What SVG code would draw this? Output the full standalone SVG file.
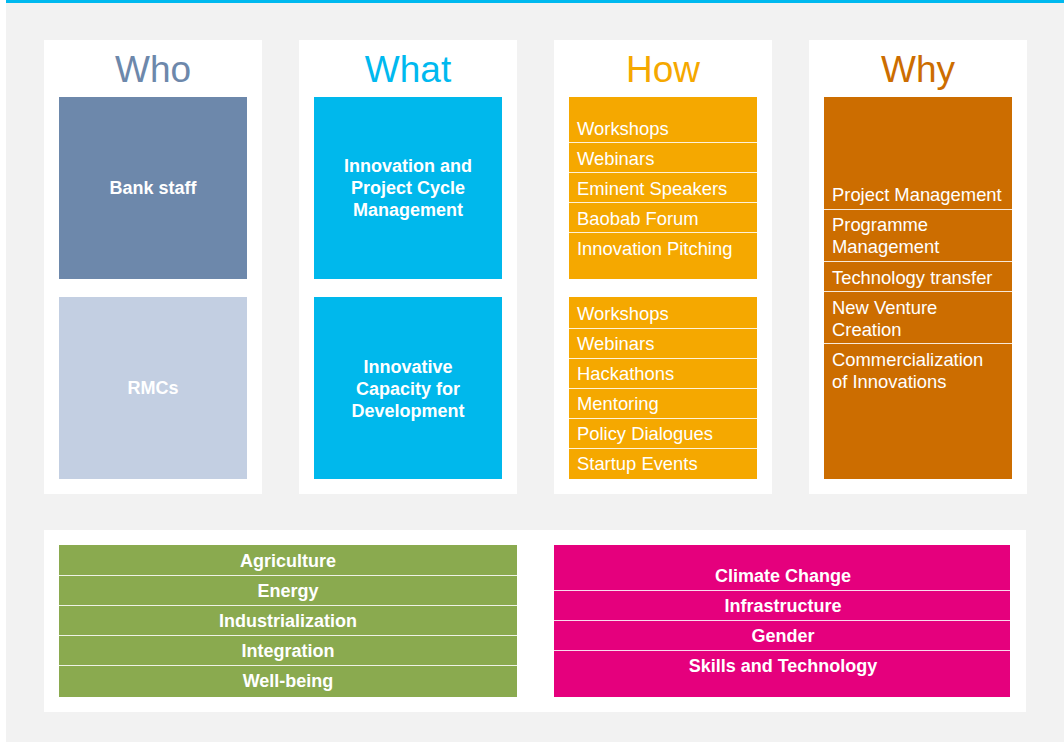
<svg xmlns="http://www.w3.org/2000/svg" width="1064" height="742" viewBox="0 0 1064 742">
<style>
.panel{fill:#ffffff}
.head{font-family:"Liberation Sans",Arial,sans-serif;font-size:37px;text-anchor:middle}
.bold{font-family:"Liberation Sans",Arial,sans-serif;font-size:18px;font-weight:bold;fill:#ffffff;text-anchor:middle}
.item{font-family:"Liberation Sans",Arial,sans-serif;font-size:18.4px;fill:#ffffff}
.sep{stroke:#ffffff;stroke-opacity:0.85;stroke-width:1.2}
</style>
<rect x="0" y="0" width="1064" height="742" fill="#ffffff"/>
<rect x="6" y="3" width="1058" height="739" fill="#f2f2f2"/>
<rect x="6" y="0" width="1058" height="3" fill="#00b9ef"/>

<g id="who">
<rect class="panel" x="44" y="40" width="218" height="454"/>
<text class="head" x="153" y="82" fill="#6d88ab">Who</text>
<rect x="59" y="97" width="188" height="182" fill="#6d88ab"/>
<text class="bold" x="153" y="194">Bank staff</text>
<rect x="59" y="297" width="188" height="182" fill="#c3cfe2"/>
<text class="bold" x="153" y="394">RMCs</text>
</g>

<g id="what">
<rect class="panel" x="299" y="40" width="218" height="454"/>
<text class="head" x="408" y="82" fill="#00b9ef">What</text>
<rect x="314" y="97" width="188" height="182" fill="#00b8ec"/>
<text class="bold" x="408" y="172">Innovation and</text>
<text class="bold" x="408" y="194">Project Cycle</text>
<text class="bold" x="408" y="216">Management</text>
<rect x="314" y="297" width="188" height="182" fill="#00b8ec"/>
<text class="bold" x="408" y="373">Innovative</text>
<text class="bold" x="408" y="395">Capacity for</text>
<text class="bold" x="408" y="417">Development</text>
</g>

<g id="how">
<rect class="panel" x="554" y="40" width="218" height="454"/>
<text class="head" x="663" y="82" fill="#f5a800">How</text>
<rect x="569" y="97" width="188" height="182" fill="#f5a800"/>
<g class="sep">
<line x1="569" y1="142.5" x2="757" y2="142.5"/>
<line x1="569" y1="172.5" x2="757" y2="172.5"/>
<line x1="569" y1="202.5" x2="757" y2="202.5"/>
<line x1="569" y1="232.5" x2="757" y2="232.5"/>
</g>
<text class="item" x="577" y="135">Workshops</text>
<text class="item" x="577" y="165">Webinars</text>
<text class="item" x="577" y="195">Eminent Speakers</text>
<text class="item" x="577" y="225">Baobab Forum</text>
<text class="item" x="577" y="255">Innovation Pitching</text>
<rect x="569" y="297" width="188" height="182" fill="#f5a800"/>
<g class="sep">
<line x1="569" y1="328.5" x2="757" y2="328.5"/>
<line x1="569" y1="358.5" x2="757" y2="358.5"/>
<line x1="569" y1="388.5" x2="757" y2="388.5"/>
<line x1="569" y1="418.5" x2="757" y2="418.5"/>
<line x1="569" y1="448.5" x2="757" y2="448.5"/>
</g>
<text class="item" x="577" y="320">Workshops</text>
<text class="item" x="577" y="350">Webinars</text>
<text class="item" x="577" y="380">Hackathons</text>
<text class="item" x="577" y="410">Mentoring</text>
<text class="item" x="577" y="440">Policy Dialogues</text>
<text class="item" x="577" y="470">Startup Events</text>
</g>

<g id="why">
<rect class="panel" x="809" y="40" width="218" height="454"/>
<text class="head" x="918" y="82" fill="#cc6d00">Why</text>
<rect x="824" y="97" width="188" height="382" fill="#cc6d00"/>
<g class="sep">
<line x1="824" y1="209.5" x2="1012" y2="209.5"/>
<line x1="824" y1="261.5" x2="1012" y2="261.5"/>
<line x1="824" y1="291.5" x2="1012" y2="291.5"/>
<line x1="824" y1="343.5" x2="1012" y2="343.5"/>
</g>
<text class="item" x="832" y="201">Project Management</text>
<text class="item" x="832" y="231">Programme</text>
<text class="item" x="832" y="253">Management</text>
<text class="item" x="832" y="284">Technology transfer</text>
<text class="item" x="832" y="314">New Venture</text>
<text class="item" x="832" y="336">Creation</text>
<text class="item" x="832" y="366">Commercialization</text>
<text class="item" x="832" y="388">of Innovations</text>
</g>

<g id="themes">
<rect class="panel" x="44" y="530" width="982" height="182"/>
</g>

<g id="high5">
<rect x="59" y="545" width="458" height="152" fill="#8aaa4f"/>
<g class="sep">
<line x1="59" y1="575.5" x2="517" y2="575.5"/>
<line x1="59" y1="605.5" x2="517" y2="605.5"/>
<line x1="59" y1="635.5" x2="517" y2="635.5"/>
<line x1="59" y1="665.5" x2="517" y2="665.5"/>
</g>
<text class="bold" x="288" y="567">Agriculture</text>
<text class="bold" x="288" y="597">Energy</text>
<text class="bold" x="288" y="627">Industrialization</text>
<text class="bold" x="288" y="657">Integration</text>
<text class="bold" x="288" y="687">Well-being</text>
</g>

<g id="crosscutting">
<rect x="554" y="545" width="456" height="152" fill="#e5007d"/>
<g class="sep">
<line x1="554" y1="590.5" x2="1010" y2="590.5"/>
<line x1="554" y1="620.5" x2="1010" y2="620.5"/>
<line x1="554" y1="650.5" x2="1010" y2="650.5"/>
</g>
<text class="bold" x="783" y="582">Climate Change</text>
<text class="bold" x="783" y="612">Infrastructure</text>
<text class="bold" x="783" y="642">Gender</text>
<text class="bold" x="783" y="672">Skills and Technology</text>
</g>

<g id="connectors"></g>
</svg>
